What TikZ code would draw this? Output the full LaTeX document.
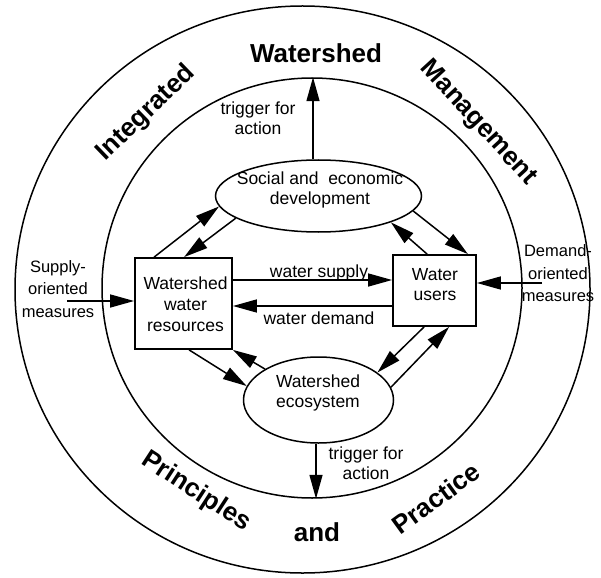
\documentclass[tikz,border=0pt]{standalone}
\usepackage{fontspec}
\setmainfont{Liberation Sans}
\usetikzlibrary{arrows.meta,shapes.geometric}
\begin{document}
\begin{tikzpicture}[x=1pt,y=-1pt,
  line width=1.5pt,
  arr/.style={-{Triangle[length=24pt,width=13pt]}},
  lbl/.style={font=\fontsize{17.5}{20}\selectfont, align=center, inner sep=0},
  side/.style={font=\fontsize{16.5}{22.5}\selectfont, align=center, inner sep=0},
  big/.style={font=\fontsize{26}{30}\selectfont\bfseries, inner sep=0},
  boxnode/.style={draw, rectangle, inner sep=0, line width=1.8pt},
  ell/.style={draw, ellipse, inner sep=0}]
\useasboundingbox (0,0) rectangle (601,577);
% rings
\node[ell, minimum width=575pt, minimum height=567pt] (oc) at (302.5,289.5) {};
\node[draw, circle, inner sep=0, minimum size=420pt] (ic) at (312,288) {};
% main nodes
\node[ell, minimum width=206pt, minimum height=72pt] (se) at (318.5,196) {};
\node[lbl] (set) at (320,190) {Social and~ economic\\development};
\node[ell, minimum width=150pt, minimum height=86pt] (ee) at (318.5,400) {};
\node[lbl] (eet) at (318,393) {Watershed\\ecosystem};
\node[boxnode, minimum width=97pt, minimum height=91pt] (lb) at (183.5,303.5) {};
\node[lbl, font=\fontsize{17.5}{21}\selectfont] (lbt) at (185.5,304) {Watershed\\water\\resources};
\node[boxnode, minimum width=83pt, minimum height=71pt] (rb) at (434.5,290.5) {};
\node[lbl] (rbt) at (435,285) {Water\\users};
% diagonal connectors
\draw[arr] ([xshift=20pt]lb.north west) -- (se.186);
\draw[arr] (se.195) -- ([xshift=50pt]lb.north west);
\draw[arr] ([xshift=35pt]rb.north west) -- (se.340);
\draw[arr] (se.351) -- ([xshift=-9pt]rb.north east);
\draw[arr] ([xshift=55pt]lb.south west) -- (ee.169);
\draw[arr] (ee.150) -- (lb.south east);
\draw[arr] ([xshift=32pt]rb.south west) -- (ee.25);
\draw[arr] (ee.10) -- ([xshift=57pt]rb.south west);
% triggers
\draw[arr] ([xshift=-5.5pt]se.north) -- ([xshift=1pt]ic.north);
\draw[arr] ([xshift=-2.5pt]ee.south) -- ([xshift=4pt]ic.south);
\node[lbl] (t1) at (258,118) {trigger for\\action};
\node[lbl] (t2) at (366,463) {trigger for\\action};
% supply / demand
\draw[arr] ([yshift=23.5pt]lb.east) -- ([yshift=10.5pt]rb.west);
\draw[arr] ([yshift=-15.5pt]rb.west) -- ([yshift=-2.5pt]lb.east);
\node[lbl, anchor=base] (wsl) at (319,277) {water supply};
\node[lbl, anchor=base] (wdl) at (319,324) {water demand};
\coordinate (sup) at (67,301);
\draw[arr] (sup) -- (sup -| lb.west);
\coordinate (dem) at (542,283);
\draw[arr] (dem) -- (dem -| rb.east);
\node[side] (supl) at (58,289) {Supply-\\oriented\\measures};
\node[side] (deml) at (558,273.5) {Demand-\\oriented\\measures};
% ring words
\node[big] (w1) at (316,53) {Watershed};
\node[big, rotate=44] (w2) at (146,113) {Integrated};
\node[big, rotate=-47.5] (w3) at (478,123) {Management};
\node[big, rotate=-33] (w4) at (196,492) {Principles};
\node[big] (w5) at (317,532) {and};
\node[big, rotate=36] (w6) at (436,498) {Practice};
\end{tikzpicture}
\end{document}
